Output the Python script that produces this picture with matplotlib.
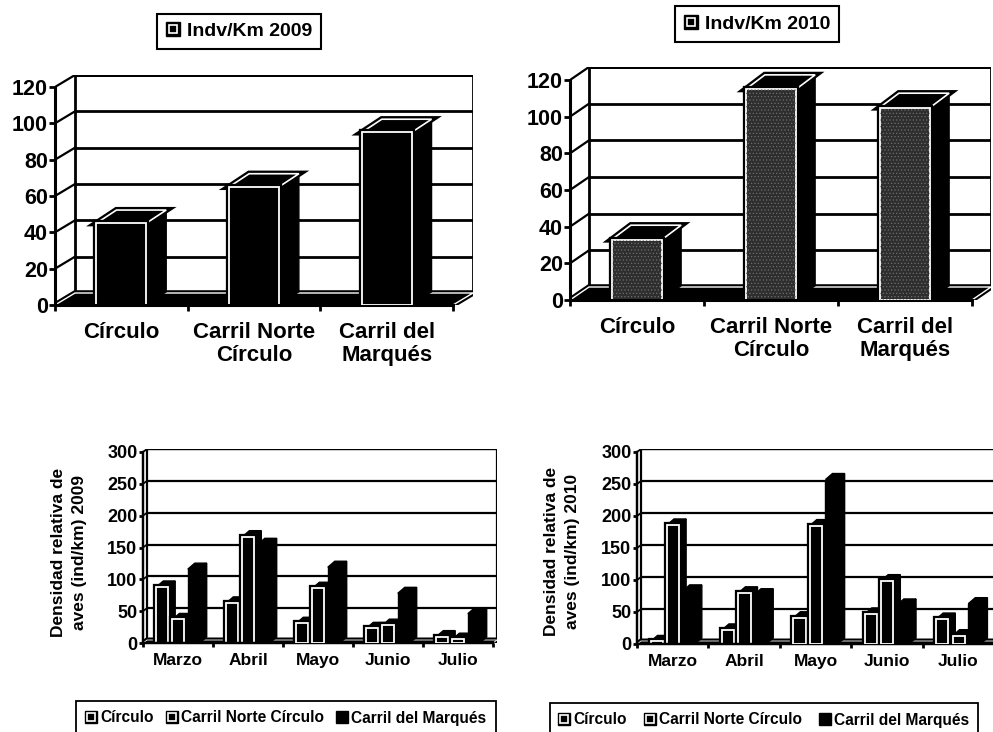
import matplotlib
matplotlib.use("Agg")
import matplotlib.pyplot as plt
from matplotlib.patches import Polygon, Rectangle
from matplotlib.lines import Line2D
import matplotlib.patheffects as pe

plt.rcParams['font.family'] = ['Liberation Sans', 'DejaVu Sans']
plt.rcParams['font.weight'] = 'bold'
plt.rcParams['hatch.linewidth'] = 0.5

# ---------------- data ----------------
sites = ['Círculo', 'Carril Norte\nCírculo', 'Carril del\nMarqués']
indv_km_2009 = [45, 65, 95]
indv_km_2010 = [33, 115, 105]

months = ['Marzo', 'Abril', 'Mayo', 'Junio', 'Julio']
series_names = ['Círculo', 'Carril Norte Círculo', 'Carril del Marqués']
dens_2009_circulo = [88, 63, 31, 23, 10]
dens_2009_norte = [37, 167, 86, 28, 6]
dens_2009_marques = [116, 155, 119, 78, 46]
dens_2010_circulo = [4, 22, 41, 47, 39]
dens_2010_norte = [186, 80, 185, 99, 13]
dens_2010_marques = [83, 77, 257, 61, 63]

top_ticks = [0, 20, 40, 60, 80, 100, 120]
bottom_ticks = [0, 50, 100, 150, 200, 250, 300]

W, H = 993, 732
fig = plt.figure(figsize=(W / 100, H / 100), dpi=100)

outline_fx = [pe.withStroke(linewidth=4.5, foreground='black')]


def make_frame(px_left, px_right, px_zero, px_top, dxp, dyp, n, ticks,
               wall_lw, tick_fs, tick_len):
    """Pseudo-3D frame: front plane given in pixels, back wall offset by (dxp, dyp)."""
    ymax = ticks[-1]
    ax = fig.add_axes([px_left / W, 1 - px_zero / H,
                       (px_right + dxp - px_left) / W,
                       (px_zero - px_top + dyp) / H])
    sx = n / (px_right - px_left)
    sy = ymax / (px_zero - px_top)
    ddx, ddy = dxp * sx, dyp * sy
    ax.set_xlim(0, n + ddx)
    ax.set_ylim(0, ymax + ddy)
    ax.patch.set_visible(False)

    # back wall and gridlines
    ax.add_patch(Rectangle((ddx, ddy), n, ymax, fc='white', ec='black',
                           lw=wall_lw, zorder=1))
    for t in ticks[1:]:
        ax.plot([ddx, n + ddx], [t + ddy, t + ddy], color='black',
                lw=wall_lw, zorder=2, solid_capstyle='butt')
    # side wall diagonals
    for t in ticks:
        ax.plot([0, ddx], [t, t + ddy], color='black', lw=wall_lw * 0.8,
                zorder=2)
    ax.plot([n, n + ddx], [0, ddy], color='black', lw=wall_lw, zorder=2)

    for s in ('top', 'right'):
        ax.spines[s].set_visible(False)
    ax.spines['left'].set_bounds(0, ymax)
    ax.spines['bottom'].set_bounds(0, n)
    ax.spines['left'].set_linewidth(wall_lw * 1.1)
    ax.spines['bottom'].set_linewidth(wall_lw * 1.1)
    ax.spines['left'].set_zorder(6)
    ax.spines['bottom'].set_zorder(6)

    ax.set_yticks(ticks)
    ax.set_yticklabels([str(t) for t in ticks])
    ax.tick_params(axis='y', direction='out', length=tick_len, width=2,
                   pad=1, labelsize=tick_fs)
    ax.set_xticks(range(n + 1))
    ax.set_xticklabels([''] * (n + 1))
    ax.tick_params(axis='x', which='major', direction='out', length=tick_len,
                   width=2)
    return ax, sx, sy, ddx, ddy


def draw_floor(ax, n, ddx, ddy, lw):
    ax.add_patch(Polygon([(0, 0), (n, 0), (n + ddx, ddy), (ddx, ddy)],
                         closed=True, fc='black', ec='white', lw=lw,
                         path_effects=[pe.withStroke(linewidth=lw + 3,
                                                     foreground='black')],
                         zorder=3))


def bar3d(ax, x, w, v, bdx, bdy, front_fc, white_front, white_top, z,
          stipple=False):
    side = Polygon([(x + w, 0), (x + w + bdx, bdy), (x + w + bdx, v + bdy),
                    (x + w, v)], closed=True, fc='black', ec='black', lw=1,
                   zorder=z)
    ax.add_patch(side)
    top_kw = dict(fc='black', ec='white', lw=1.2, path_effects=outline_fx) \
        if white_top else dict(fc='black', ec='black', lw=1)
    ax.add_patch(Polygon([(x, v), (x + bdx, v + bdy), (x + w + bdx, v + bdy),
                          (x + w, v)], closed=True, zorder=z + 0.1, **top_kw))
    if white_front:
        front = Rectangle((x, 0), w, v, fc=front_fc, ec='white', lw=1.3,
                          path_effects=outline_fx, zorder=z + 0.2)
    else:
        front = Rectangle((x, 0), w, v, fc=front_fc, ec='black', lw=1,
                          zorder=z + 0.2)
    ax.add_patch(front)
    if stipple:
        ax.add_patch(Rectangle((x, 0), w, v, fill=False, hatch='.....',
                               ec='#6e6e6e', lw=0, zorder=z + 0.3))


def site_chart(px_left, px_right, px_zero, px_top, dxp, dyp, values,
               front_fc, stipple):
    n = len(sites)
    ax, sx, sy, ddx, ddy = make_frame(px_left, px_right, px_zero, px_top,
                                      dxp, dyp, n, top_ticks, 2.0, 15.5, 4)
    draw_floor(ax, n, ddx, ddy, 1.0)
    w = 0.375
    for i, v in enumerate(values):
        x = i + 0.5 - w / 2
        bar3d(ax, x, w, v, ddx, ddy * 1.1, front_fc, True, True, 4 + i,
              stipple=stipple)
    ax.set_xticks([i + 0.5 for i in range(n)], minor=True)
    ax.set_xticklabels(sites, minor=True, fontsize=16, linespacing=1.15)
    ax.tick_params(axis='x', which='minor', length=0, pad=12)
    return ax


def month_chart(px_left, px_right, px_zero, px_top, groups):
    n = len(months)
    ax, sx, sy, ddx, ddy = make_frame(px_left, px_right, px_zero, px_top,
                                      4, 3, n, bottom_ticks, 1.6, 13, 3)
    draw_floor(ax, n, ddx, ddy, 0.6)
    bdx, bdy = 7 * sx, 6 * sy
    w = 0.17
    offsets = [0.19, 0.42, 0.64]
    for i in range(n):
        for k, vals in enumerate(groups):
            bar3d(ax, i + offsets[k], w, vals[i], bdx, bdy, 'black',
                  k < 2, False, 4 + i + 0.3 * k)
    ax.set_xticks([i + 0.5 for i in range(n)], minor=True)
    ax.set_xticklabels(months, minor=True, fontsize=12.5)
    ax.tick_params(axis='x', which='minor', length=0, pad=7)
    return ax


# ---------------- top charts: individuals per km ----------------
site_chart(55, 453, 305, 87, 20, 12, indv_km_2009, 'black', False)
site_chart(570, 972, 300, 80, 19, 13, indv_km_2010, '#2e2e2e', True)


def square_handle(hollow, size=10):
    outer = Line2D([], [], marker='s', markersize=size, color='black',
                   linestyle='none')
    if not hollow:
        return outer
    inner = Line2D([], [], marker='s', markersize=size * 0.6,
                   markerfacecolor='black', markeredgecolor='white',
                   markeredgewidth=1.2, linestyle='none')
    return (outer, inner)


for label, cx, cy in [('Indv/Km 2009', 239, 31.5), ('Indv/Km 2010', 757, 24)]:
    leg = fig.legend([square_handle(True)], [label], loc='center',
                     bbox_to_anchor=(cx / W, 1 - cy / H), fontsize=14,
                     frameon=True, fancybox=False, edgecolor='black',
                     framealpha=1, handlelength=0.8, handletextpad=0.3,
                     borderpad=0.45, borderaxespad=0)
    leg.get_frame().set_linewidth(1.5)

# ---------------- bottom charts: monthly relative density ----------------
month_chart(143, 493, 643, 452,
            [dens_2009_circulo, dens_2009_norte, dens_2009_marques])
month_chart(637, 994, 644, 452,
            [dens_2010_circulo, dens_2010_norte, dens_2010_marques])

fig.text(69 / W, 1 - 552 / H, 'Densidad relativa de\naves (ind/km) 2009',
         rotation=90, ha='center', va='center', fontsize=12.5,
         linespacing=1.45, multialignment='center')
fig.text(562 / W, 1 - 551 / H, 'Densidad relativa de\naves (ind/km) 2010',
         rotation=90, ha='center', va='center', fontsize=12.5,
         linespacing=1.45, multialignment='center')

for cx, cy, colsp in [(286, 718, 0.8), (764, 720, 1.1)]:
    handles = [square_handle(True, 9), square_handle(True, 9),
               square_handle(False, 9)]
    leg = fig.legend(handles, series_names, loc='center', ncol=3,
                     bbox_to_anchor=(cx / W, 1 - cy / H), fontsize=11.2,
                     frameon=True, fancybox=False, edgecolor='black',
                     framealpha=1, handlelength=0.7, handletextpad=0.25,
                     columnspacing=colsp, borderpad=0.6, borderaxespad=0)
    leg.get_frame().set_linewidth(1.3)

fig.savefig('out.png', dpi=100)
